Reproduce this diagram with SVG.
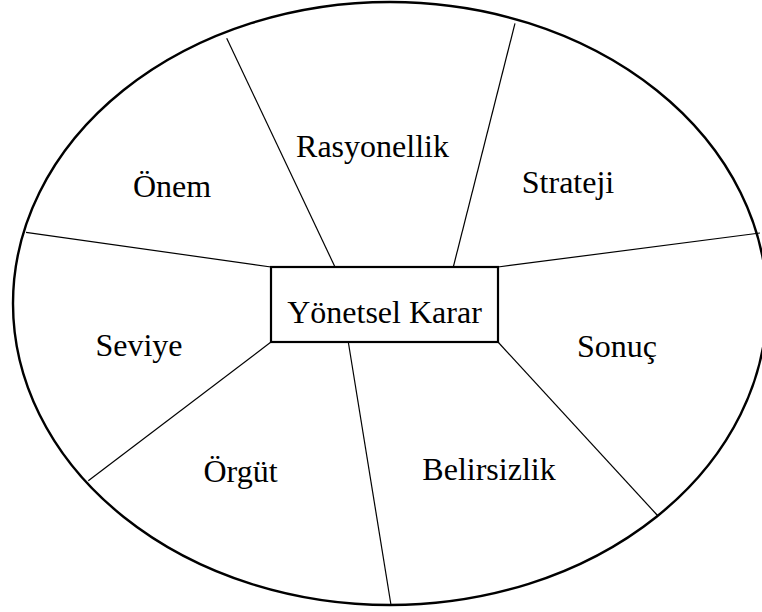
<svg xmlns="http://www.w3.org/2000/svg" width="762" height="612" viewBox="0 0 762 612">
<style>
.lbl{font-family:"Liberation Serif","Times New Roman",serif;font-size:32px;fill:#000;text-anchor:middle}
.ln{stroke:#000;stroke-width:1.2;fill:none}
</style>
<rect x="0" y="0" width="762" height="612" fill="#fff"/>
<g id="outer">
<ellipse cx="390" cy="303.5" rx="377" ry="301.5" fill="#fff" stroke="#000" stroke-width="2.4"/>
</g>
<g id="connectors">
<line class="ln" x1="226.7" y1="38.3" x2="335" y2="267"/>
<line class="ln" x1="515" y1="23.3" x2="453.3" y2="267"/>
<line class="ln" x1="26" y1="232.3" x2="271" y2="267"/>
<line class="ln" x1="498" y1="267" x2="760" y2="233"/>
<line class="ln" x1="271" y1="342" x2="88.3" y2="480.7"/>
<line class="ln" x1="348.3" y1="342" x2="391" y2="605"/>
<line class="ln" x1="498" y1="342" x2="658" y2="516"/>
</g>
<g id="center">
<rect x="271" y="267" width="227" height="75" fill="#fff" stroke="#000" stroke-width="2.2"/>
<text class="lbl" x="384.5" y="323">Yönetsel Karar</text>
</g>
<g id="rasyonellik"><text class="lbl" x="372.5" y="157">Rasyonellik</text></g>
<g id="onem"><text class="lbl" x="172" y="197">Önem</text></g>
<g id="strateji"><text class="lbl" x="568" y="193">Strateji</text></g>
<g id="seviye"><text class="lbl" x="139" y="356">Seviye</text></g>
<g id="sonuc"><text class="lbl" x="617" y="357">Sonuç</text></g>
<g id="orgut"><text class="lbl" x="240.5" y="482">Örgüt</text></g>
<g id="belirsizlik"><text class="lbl" x="489" y="480">Belirsizlik</text></g>
</svg>
